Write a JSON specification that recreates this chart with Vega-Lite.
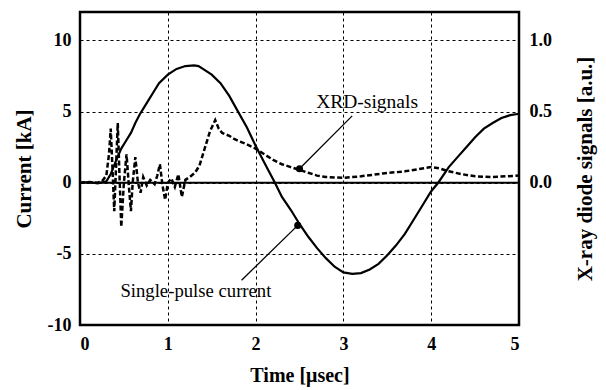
{
  "$schema": "https://vega.github.io/schema/vega-lite/v6.json",
  "width": 439,
  "height": 313,
  "autosize": {"type": "none"},
  "padding": {"left": 80, "top": 12, "right": 87, "bottom": 65},
  "background": "white",
  "config": {
    "view": {"stroke": "black", "strokeWidth": 2.5},
    "font": "Liberation Serif"
  },
  "datasets": {
    "current": [
      {"t": 0, "v": 0}, {"t": 0.1, "v": 0.05}, {"t": 0.2, "v": -0.05}, {"t": 0.3, "v": 0.1},
      {"t": 0.35, "v": 0.6}, {"t": 0.4, "v": 1.4}, {"t": 0.47, "v": 2.4}, {"t": 0.53, "v": 3.0},
      {"t": 0.58, "v": 3.5}, {"t": 0.63, "v": 4.2}, {"t": 0.68, "v": 4.8}, {"t": 0.73, "v": 5.3},
      {"t": 0.77, "v": 5.7}, {"t": 0.85, "v": 6.5}, {"t": 0.9, "v": 7.0}, {"t": 1.0, "v": 7.6},
      {"t": 1.1, "v": 8.0}, {"t": 1.2, "v": 8.2}, {"t": 1.3, "v": 8.25}, {"t": 1.35, "v": 8.2},
      {"t": 1.4, "v": 8.0}, {"t": 1.5, "v": 7.6}, {"t": 1.6, "v": 7.0}, {"t": 1.7, "v": 6.1},
      {"t": 1.8, "v": 5.0}, {"t": 1.9, "v": 3.9}, {"t": 2.0, "v": 2.6}, {"t": 2.1, "v": 1.4},
      {"t": 2.22, "v": 0}, {"t": 2.3, "v": -1.0}, {"t": 2.4, "v": -1.9}, {"t": 2.5, "v": -2.9},
      {"t": 2.6, "v": -3.8}, {"t": 2.7, "v": -4.6}, {"t": 2.8, "v": -5.3}, {"t": 2.9, "v": -5.9},
      {"t": 3.0, "v": -6.3}, {"t": 3.1, "v": -6.4}, {"t": 3.2, "v": -6.35}, {"t": 3.3, "v": -6.1},
      {"t": 3.4, "v": -5.7}, {"t": 3.5, "v": -5.1}, {"t": 3.6, "v": -4.4}, {"t": 3.7, "v": -3.6},
      {"t": 3.8, "v": -2.6}, {"t": 3.9, "v": -1.6}, {"t": 4.0, "v": -0.6}, {"t": 4.08, "v": 0},
      {"t": 4.2, "v": 1.1}, {"t": 4.3, "v": 1.8}, {"t": 4.4, "v": 2.5}, {"t": 4.5, "v": 3.2},
      {"t": 4.6, "v": 3.8}, {"t": 4.7, "v": 4.2}, {"t": 4.8, "v": 4.55}, {"t": 4.9, "v": 4.75},
      {"t": 5.0, "v": 4.85}
    ],
    "xrd": [
      {"t": 0, "v": 0}, {"t": 0.1, "v": 0.005}, {"t": 0.2, "v": 0}, {"t": 0.25, "v": 0.01},
      {"t": 0.3, "v": 0.05}, {"t": 0.33, "v": 0.2}, {"t": 0.35, "v": 0.38}, {"t": 0.37, "v": 0.1},
      {"t": 0.39, "v": -0.2}, {"t": 0.41, "v": 0.1}, {"t": 0.43, "v": 0.42}, {"t": 0.45, "v": 0.05},
      {"t": 0.47, "v": -0.31}, {"t": 0.5, "v": 0.0}, {"t": 0.53, "v": 0.2}, {"t": 0.56, "v": -0.05},
      {"t": 0.58, "v": -0.2}, {"t": 0.6, "v": 0.0}, {"t": 0.63, "v": 0.18}, {"t": 0.66, "v": 0.0},
      {"t": 0.69, "v": -0.07}, {"t": 0.72, "v": 0.04}, {"t": 0.76, "v": -0.02}, {"t": 0.8, "v": 0.02},
      {"t": 0.85, "v": -0.01}, {"t": 0.88, "v": 0.05}, {"t": 0.91, "v": 0.13}, {"t": 0.94, "v": -0.02},
      {"t": 0.97, "v": -0.12}, {"t": 1.0, "v": 0.0}, {"t": 1.04, "v": 0.03}, {"t": 1.08, "v": -0.03},
      {"t": 1.12, "v": 0.06}, {"t": 1.16, "v": -0.1}, {"t": 1.2, "v": 0.02}, {"t": 1.25, "v": 0.04},
      {"t": 1.31, "v": 0.07}, {"t": 1.36, "v": 0.12}, {"t": 1.4, "v": 0.2}, {"t": 1.45, "v": 0.3},
      {"t": 1.48, "v": 0.36}, {"t": 1.54, "v": 0.44}, {"t": 1.58, "v": 0.38}, {"t": 1.62, "v": 0.35},
      {"t": 1.7, "v": 0.33}, {"t": 1.75, "v": 0.31}, {"t": 1.82, "v": 0.29}, {"t": 1.9, "v": 0.27},
      {"t": 2.0, "v": 0.24}, {"t": 2.1, "v": 0.2}, {"t": 2.2, "v": 0.16}, {"t": 2.3, "v": 0.13},
      {"t": 2.4, "v": 0.11}, {"t": 2.5, "v": 0.09}, {"t": 2.6, "v": 0.07}, {"t": 2.7, "v": 0.05},
      {"t": 2.8, "v": 0.04}, {"t": 3.0, "v": 0.035}, {"t": 3.2, "v": 0.045}, {"t": 3.45, "v": 0.065},
      {"t": 3.7, "v": 0.08}, {"t": 3.9, "v": 0.1}, {"t": 4.0, "v": 0.11}, {"t": 4.1, "v": 0.1},
      {"t": 4.2, "v": 0.08}, {"t": 4.35, "v": 0.06}, {"t": 4.5, "v": 0.045}, {"t": 4.7, "v": 0.04},
      {"t": 4.85, "v": 0.045}, {"t": 5.0, "v": 0.05}
    ],
    "zero": [{"t": 0, "t2": 5, "v": 0}],
    "curAnn": [{"t": 2.48, "v": -3.0, "t2": 1.84, "v2": -6.85}],
    "curLabel": [{"t": 1.32, "v": -7.6, "label": "Single-pulse current"}],
    "xrdAnn": [{"t": 2.5, "v": 0.098, "t2": 3.1, "v2": 0.47}],
    "xrdLabel": [{"t": 3.27, "v": 0.57, "label": "XRD-signals"}]
  },
  "encoding": {
    "x": {
      "field": "t", "type": "quantitative",
      "scale": {"domain": [0, 5], "nice": false, "zero": false},
      "axis": {
        "title": "Time [μsec]", "values": [0, 1, 2, 3, 4, 5], "format": "d",
        "grid": true, "gridDash": [3, 3], "gridColor": "black", "gridWidth": 1, "gridOpacity": 1,
        "domain": false, "ticks": false,
        "labelFont": "Liberation Serif", "labelFontWeight": "bold", "labelFontSize": 18, "labelColor": "black",
        "labelPadding": 10,
        "titleFont": "Liberation Serif", "titleFontWeight": "bold", "titleFontSize": 20, "titleColor": "black",
        "titlePadding": 12
      }
    }
  },
  "layer": [
    {
      "encoding": {
        "y": {
          "field": "v", "type": "quantitative",
          "scale": {"domain": [-10, 12], "nice": false, "zero": false},
          "axis": {
            "title": "Current [kA]", "values": [-10, -5, 0, 5, 10], "format": "d",
            "labelExpr": "replace(datum.label, '−', '-')",
            "grid": true, "gridDash": [3, 3], "gridColor": "black", "gridWidth": 1, "gridOpacity": 1,
            "domain": false, "ticks": false,
            "labelFont": "Liberation Serif", "labelFontWeight": "bold", "labelFontSize": 18, "labelColor": "black",
            "labelPadding": 9,
            "titleFont": "Liberation Serif", "titleFontWeight": "bold", "titleFontSize": 21, "titleColor": "black",
            "titlePadding": 13
          }
        }
      },
      "layer": [
        {"data": {"name": "zero"}, "mark": {"type": "rule", "color": "black", "strokeWidth": 1.8}, "encoding": {"x2": {"field": "t2"}}},
        {"data": {"name": "current"}, "mark": {"type": "line", "color": "black", "strokeWidth": 2.2}, "encoding": {}},
        {"data": {"name": "curAnn"}, "mark": {"type": "rule", "color": "black", "strokeWidth": 1.3}, "encoding": {"x2": {"field": "t2"}, "y2": {"field": "v2"}}},
        {"data": {"name": "curAnn"}, "mark": {"type": "point", "filled": true, "color": "black", "size": 50, "opacity": 1}, "encoding": {}},
        {"data": {"name": "curLabel"}, "mark": {"type": "text", "font": "Liberation Serif", "fontSize": 18.7, "color": "black", "align": "center", "baseline": "middle"}, "encoding": {"text": {"field": "label"}}}
      ]
    },
    {
      "encoding": {
        "y": {
          "field": "v", "type": "quantitative",
          "scale": {"domain": [-1, 1.2], "nice": false, "zero": false},
          "axis": {
            "orient": "right",
            "title": "X-ray diode signals [a.u.]", "values": [0, 0.5, 1.0], "format": ".1f",
            "grid": false, "domain": false, "ticks": false,
            "labelFont": "Liberation Serif", "labelFontWeight": "bold", "labelFontSize": 18, "labelColor": "black",
            "labelPadding": 10,
            "titleFont": "Liberation Serif", "titleFontWeight": "bold", "titleFontSize": 21, "titleColor": "black",
            "titleAngle": 270, "titleBaseline": "top",
            "titlePadding": 23
          }
        }
      },
      "layer": [
        {"data": {"name": "xrd"}, "mark": {"type": "line", "color": "black", "strokeWidth": 2.5, "strokeDash": [5, 2.5]}, "encoding": {}},
        {"data": {"name": "xrdAnn"}, "mark": {"type": "rule", "color": "black", "strokeWidth": 1.3}, "encoding": {"x2": {"field": "t2"}, "y2": {"field": "v2"}}},
        {"data": {"name": "xrdAnn"}, "mark": {"type": "point", "filled": true, "color": "black", "size": 50, "opacity": 1}, "encoding": {}},
        {"data": {"name": "xrdLabel"}, "mark": {"type": "text", "font": "Liberation Serif", "fontSize": 19.5, "color": "black", "align": "center", "baseline": "middle"}, "encoding": {"text": {"field": "label"}}}
      ]
    }
  ],
  "resolve": {"scale": {"y": "independent"}}
}
